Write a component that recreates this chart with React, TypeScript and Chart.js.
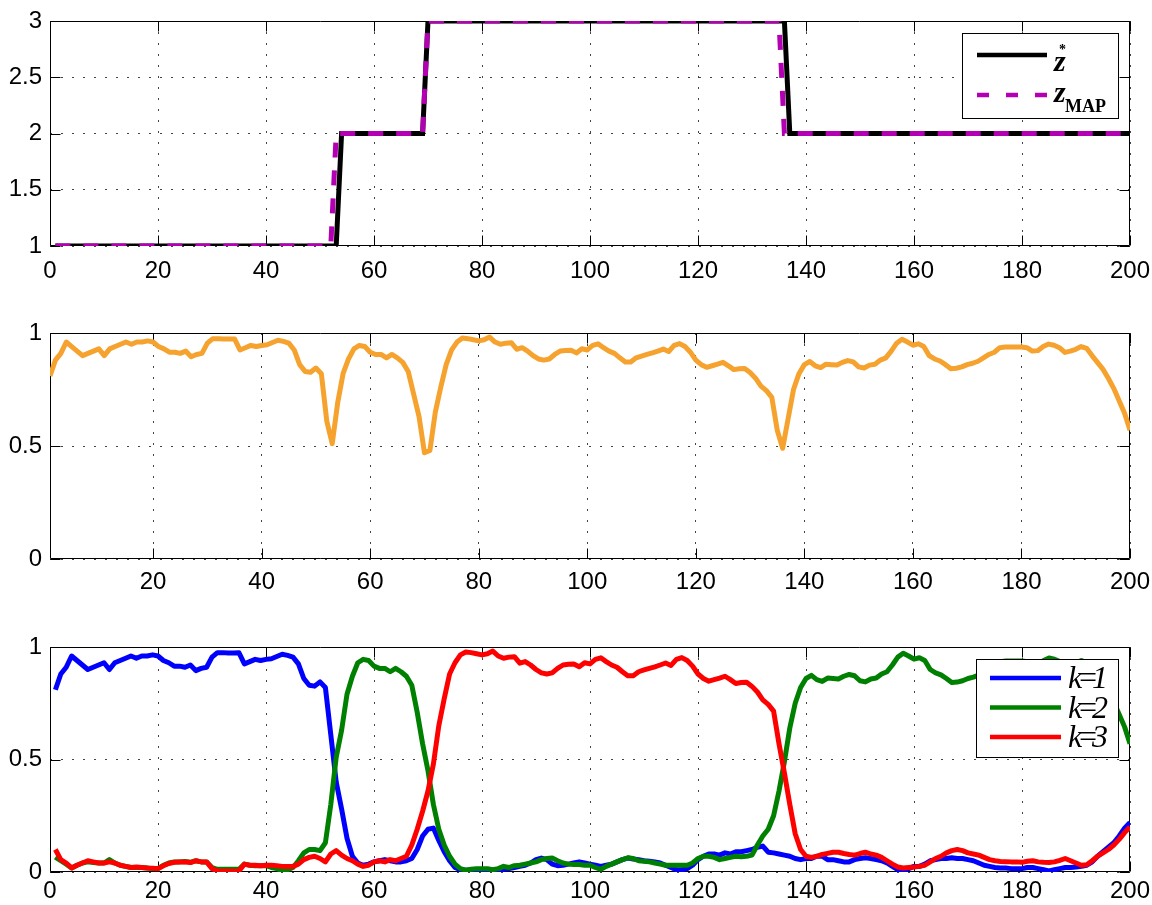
import React, { useEffect, useRef } from "react";
import { Chart, registerables } from "chart.js";

Chart.register(...registerables);

// ---------- DATA ----------
const xTicksFull = [0, 20, 40, 60, 80, 100, 120, 140, 160, 180, 200];
const xTicksMid = [20, 40, 60, 80, 100, 120, 140, 160, 180, 200];
const yTicksTop = [1, 1.5, 2, 2.5, 3];
const yTicksProb = [0, 0.5, 1];

// step sequences: time index of each vertex and its level
const zStarT = [1, 53, 54, 69, 70, 136, 137, 200];
const zStarV = [1, 1, 2, 2, 3, 3, 2, 2];
const zMapT = [1, 52, 53, 69, 70, 135, 136, 200];
const zMapV = [1, 1, 2, 2, 3, 3, 2, 2];

// max posterior probability, t = 1..200
const maxPost = [
  0.81, 0.88, 0.91, 0.96, 0.94, 0.92, 0.90, 0.91, 0.92, 0.93,
  0.90, 0.93, 0.94, 0.95, 0.96, 0.95, 0.96, 0.96, 0.965, 0.96,
  0.94, 0.93, 0.915, 0.915, 0.91, 0.92, 0.895, 0.905, 0.91, 0.955,
  0.975, 0.975, 0.973, 0.973, 0.974, 0.925, 0.935, 0.945, 0.94, 0.945,
  0.948, 0.958, 0.968, 0.963, 0.955, 0.925, 0.86, 0.83, 0.826, 0.845,
  0.82, 0.61, 0.51, 0.69, 0.82, 0.885, 0.93, 0.945, 0.94, 0.915,
  0.905, 0.905, 0.89, 0.905, 0.89, 0.87, 0.83, 0.73, 0.63, 0.47,
  0.48, 0.65, 0.76, 0.86, 0.925, 0.96, 0.978, 0.975, 0.97, 0.965,
  0.97, 0.982, 0.96, 0.95, 0.955, 0.957, 0.928, 0.935, 0.92, 0.90,
  0.885, 0.88, 0.885, 0.905, 0.92, 0.923, 0.924, 0.912, 0.93, 0.925,
  0.945, 0.952, 0.935, 0.92, 0.91, 0.89, 0.872, 0.872, 0.89, 0.898,
  0.905, 0.912, 0.92, 0.929, 0.918, 0.945, 0.953, 0.94, 0.915, 0.88,
  0.86, 0.848, 0.855, 0.862, 0.87, 0.855, 0.838, 0.842, 0.843, 0.825,
  0.80, 0.765, 0.745, 0.715, 0.57, 0.49, 0.62, 0.75, 0.82, 0.86,
  0.874, 0.855, 0.847, 0.862, 0.86, 0.858, 0.87, 0.878, 0.872, 0.85,
  0.845, 0.858, 0.862, 0.88, 0.89, 0.92, 0.955, 0.972, 0.96, 0.946,
  0.952, 0.94, 0.90, 0.885, 0.876, 0.86, 0.842, 0.844, 0.85, 0.86,
  0.866, 0.875, 0.89, 0.905, 0.915, 0.935, 0.938, 0.938, 0.938, 0.938,
  0.935, 0.92, 0.922, 0.94, 0.951, 0.946, 0.935, 0.914, 0.92, 0.928,
  0.94, 0.932, 0.90, 0.87, 0.84, 0.80, 0.755, 0.70, 0.645, 0.57,
];

const probK1 = [
  0.81, 0.88, 0.91, 0.96, 0.94, 0.92, 0.90, 0.91, 0.92, 0.93,
  0.90, 0.93, 0.94, 0.95, 0.96, 0.95, 0.96, 0.96, 0.965, 0.96,
  0.94, 0.93, 0.915, 0.915, 0.91, 0.92, 0.895, 0.905, 0.91, 0.955,
  0.975, 0.975, 0.973, 0.973, 0.974, 0.925, 0.935, 0.945, 0.94, 0.945,
  0.948, 0.958, 0.968, 0.963, 0.955, 0.925, 0.86, 0.83, 0.826, 0.845,
  0.82, 0.61, 0.40, 0.28, 0.15, 0.07, 0.04, 0.03, 0.035, 0.045,
  0.05, 0.055, 0.05, 0.045, 0.045, 0.05, 0.06, 0.10, 0.16, 0.19,
  0.195, 0.14, 0.09, 0.05, 0.02, 0.01, 0.008, 0.01, 0.01, 0.008,
  0.008, 0.005, 0.008, 0.012, 0.015, 0.02, 0.025, 0.03, 0.04, 0.055,
  0.062, 0.055, 0.035, 0.028, 0.03, 0.035, 0.04, 0.045, 0.04, 0.035,
  0.03, 0.025, 0.03, 0.035, 0.045, 0.055, 0.062, 0.058, 0.055, 0.05,
  0.048, 0.045, 0.04, 0.03, 0.02, 0.01, 0.01, 0.015, 0.03, 0.055,
  0.07, 0.08, 0.08, 0.075, 0.085, 0.08, 0.09, 0.09, 0.095, 0.10,
  0.11, 0.115, 0.088, 0.085, 0.08, 0.075, 0.07, 0.06, 0.055, 0.06,
  0.06, 0.07, 0.07, 0.055, 0.055, 0.05, 0.045, 0.045, 0.055, 0.06,
  0.063, 0.06, 0.055, 0.05, 0.04, 0.025, 0.01, 0.005, 0.015, 0.025,
  0.025, 0.035, 0.05, 0.055, 0.06, 0.06, 0.063, 0.06, 0.06, 0.055,
  0.05, 0.04, 0.03, 0.025, 0.02, 0.018, 0.018, 0.015, 0.015, 0.015,
  0.02, 0.02, 0.015, 0.01, 0.005, 0.01, 0.015, 0.02, 0.02, 0.022,
  0.025, 0.03, 0.045, 0.07, 0.09, 0.11, 0.13, 0.16, 0.195, 0.22,
];

const probK2 = [
  0.066, 0.05, 0.035, 0.018, 0.03, 0.04, 0.045, 0.042, 0.04, 0.04,
  0.055, 0.04, 0.03, 0.025, 0.02, 0.02, 0.02, 0.018, 0.015, 0.015,
  0.03, 0.04, 0.045, 0.045, 0.047, 0.043, 0.05, 0.045, 0.045, 0.02,
  0.012, 0.012, 0.012, 0.012, 0.012, 0.035, 0.03, 0.028, 0.028, 0.028,
  0.02, 0.015, 0.005, 0.01, 0.02, 0.05, 0.085, 0.10, 0.10, 0.095,
  0.13, 0.30, 0.51, 0.63, 0.79, 0.87, 0.93, 0.945, 0.94, 0.915,
  0.905, 0.905, 0.89, 0.905, 0.89, 0.87, 0.83, 0.71, 0.57, 0.45,
  0.30, 0.19, 0.12, 0.07, 0.035, 0.015, 0.008, 0.012, 0.015, 0.015,
  0.015, 0.01, 0.015, 0.025, 0.02, 0.028, 0.03, 0.035, 0.04, 0.045,
  0.055, 0.06, 0.062, 0.05, 0.04, 0.035, 0.033, 0.033, 0.03, 0.03,
  0.02, 0.012, 0.025, 0.035, 0.045, 0.055, 0.063, 0.06, 0.05, 0.048,
  0.045, 0.04, 0.035, 0.03, 0.03, 0.03, 0.03, 0.03, 0.04, 0.06,
  0.07, 0.07, 0.065, 0.055, 0.06, 0.065, 0.07, 0.068, 0.07, 0.075,
  0.12, 0.16, 0.19, 0.25, 0.36, 0.49, 0.64, 0.75, 0.82, 0.86,
  0.874, 0.855, 0.847, 0.862, 0.86, 0.858, 0.87, 0.878, 0.872, 0.85,
  0.845, 0.858, 0.862, 0.88, 0.89, 0.92, 0.955, 0.972, 0.96, 0.946,
  0.952, 0.94, 0.90, 0.885, 0.876, 0.86, 0.842, 0.844, 0.85, 0.86,
  0.866, 0.875, 0.89, 0.905, 0.915, 0.935, 0.938, 0.938, 0.938, 0.938,
  0.935, 0.92, 0.922, 0.94, 0.951, 0.946, 0.935, 0.914, 0.92, 0.928,
  0.94, 0.932, 0.90, 0.87, 0.84, 0.80, 0.755, 0.70, 0.645, 0.57,
];

const probK3 = [
  0.10, 0.055, 0.04, 0.018, 0.03, 0.04, 0.05, 0.045, 0.04, 0.04,
  0.045, 0.04, 0.03, 0.025, 0.02, 0.022, 0.02, 0.018, 0.017, 0.015,
  0.028, 0.038, 0.043, 0.045, 0.045, 0.042, 0.05, 0.045, 0.045, 0.015,
  0.005, 0.005, 0.005, 0.005, 0.005, 0.035, 0.03, 0.03, 0.028, 0.03,
  0.03, 0.028, 0.025, 0.025, 0.025, 0.035, 0.055, 0.065, 0.07, 0.06,
  0.045, 0.08, 0.095, 0.075, 0.06, 0.05, 0.035, 0.025, 0.03, 0.045,
  0.05, 0.045, 0.055, 0.05, 0.06, 0.07, 0.12, 0.19, 0.27, 0.36,
  0.48, 0.65, 0.77, 0.88, 0.93, 0.965, 0.978, 0.975, 0.97, 0.965,
  0.97, 0.982, 0.96, 0.95, 0.955, 0.957, 0.928, 0.935, 0.92, 0.90,
  0.885, 0.88, 0.885, 0.905, 0.92, 0.923, 0.924, 0.912, 0.93, 0.925,
  0.945, 0.952, 0.935, 0.92, 0.91, 0.89, 0.872, 0.872, 0.89, 0.898,
  0.905, 0.912, 0.92, 0.929, 0.918, 0.945, 0.953, 0.94, 0.915, 0.88,
  0.86, 0.848, 0.855, 0.862, 0.87, 0.855, 0.838, 0.842, 0.843, 0.825,
  0.80, 0.765, 0.745, 0.715, 0.57, 0.44, 0.30, 0.17, 0.10, 0.07,
  0.065, 0.07, 0.078, 0.083, 0.088, 0.088, 0.082, 0.078, 0.075, 0.082,
  0.088, 0.08, 0.075, 0.065, 0.05, 0.035, 0.022, 0.018, 0.02, 0.022,
  0.025, 0.03, 0.045, 0.06, 0.07, 0.085, 0.095, 0.10, 0.095, 0.085,
  0.08, 0.075, 0.065, 0.055, 0.05, 0.047, 0.046, 0.045, 0.045, 0.043,
  0.048, 0.05, 0.045, 0.043, 0.042, 0.045, 0.052, 0.06, 0.05, 0.04,
  0.03, 0.032, 0.05, 0.07, 0.085, 0.10, 0.12, 0.145, 0.175, 0.20,
];

// ---------- STYLE ----------
const MAGENTA = "#B300B3";
const ORANGE = "#F6A22E";
const BLUE = "#0000FF";
const GREEN = "#008000";
const RED = "#FF0000";
const LINE_W = 5;
const TICK_FONT = { family: '"Liberation Sans", Arial, Helvetica, sans-serif', size: 24 };
const SERIF = '"Liberation Serif", "Times New Roman", serif';

const toXY = (vals: number[]) => vals.map((v, i) => ({ x: i + 1, y: v }));
const stepXY = (ts: number[], vs: number[]) => ts.map((t, i) => ({ x: t, y: vs[i] }));

function xAxis(min: number, max: number, ticks: number[], height: number, pad: number) {
  return {
    type: "linear",
    min,
    max,
    afterBuildTicks: (s: any) => {
      s.ticks = ticks.map((v) => ({ value: v }));
    },
    afterFit: (s: any) => {
      s.height = height;
      s.paddingLeft = 0;
      s.paddingRight = 0;
    },
    grid: { color: "#444", lineWidth: 1, drawTicks: false },
    border: { display: false, dash: [2, 9] },
    ticks: {
      padding: pad,
      maxRotation: 0,
      minRotation: 0,
      autoSkip: false,
      color: "#000",
      font: TICK_FONT,
      callback: (v: any) => String(v),
    },
  };
}

function yAxis(min: number, max: number, ticks: number[]) {
  return {
    type: "linear",
    min,
    max,
    afterBuildTicks: (s: any) => {
      s.ticks = ticks.map((v) => ({ value: v }));
    },
    afterFit: (s: any) => {
      s.width = 50;
      s.paddingTop = 0;
      s.paddingBottom = 0;
    },
    grid: { color: "#444", lineWidth: 1, drawTicks: false },
    border: { display: false, dash: [2, 9] },
    ticks: {
      padding: 8,
      autoSkip: false,
      color: "#000",
      font: TICK_FONT,
      callback: (v: any) => String(v),
    },
  };
}

const framePlugin = {
  id: "matlabFrame",
  beforeDatasetsDraw(chart: any) {
    const { ctx, chartArea: a, scales } = chart;
    const L = 10;
    ctx.save();
    ctx.strokeStyle = "#000";
    ctx.lineWidth = 1;
    const l = Math.round(a.left) + 0.5;
    const r = Math.round(a.right) - 0.5;
    const t = Math.round(a.top) + 0.5;
    const b = Math.round(a.bottom) - 0.5;
    ctx.beginPath();
    ctx.rect(l, t, r - l, b - t);
    scales.x.ticks.forEach((tk: any) => {
      const px = Math.round(scales.x.getPixelForValue(tk.value)) + 0.5;
      ctx.moveTo(px, b);
      ctx.lineTo(px, b - L);
      ctx.moveTo(px, t);
      ctx.lineTo(px, t + L);
    });
    scales.y.ticks.forEach((tk: any) => {
      const py = Math.round(scales.y.getPixelForValue(tk.value)) + 0.5;
      ctx.moveTo(l, py);
      ctx.lineTo(l + L, py);
      ctx.moveTo(r, py);
      ctx.lineTo(r - L, py);
    });
    ctx.stroke();
    ctx.restore();
  },
};

const zLegendPlugin = {
  id: "zLegend",
  afterDraw(chart: any) {
    const { ctx, chartArea: a } = chart;
    const w = 156;
    const h = 85;
    const x0 = Math.round(a.right) - 12 - w;
    const y0 = Math.round(a.top) + 12;
    ctx.save();
    ctx.fillStyle = "#fff";
    ctx.fillRect(x0, y0, w, h);
    ctx.strokeStyle = "#000";
    ctx.lineWidth = 1;
    ctx.strokeRect(x0 + 0.5, y0 + 0.5, w, h);
    ctx.lineWidth = 4.5;
    ctx.beginPath();
    ctx.moveTo(x0 + 15, y0 + 22);
    ctx.lineTo(x0 + 85, y0 + 22);
    ctx.stroke();
    ctx.strokeStyle = MAGENTA;
    ctx.setLineDash([12, 17]);
    ctx.beginPath();
    ctx.moveTo(x0 + 15, y0 + 62);
    ctx.lineTo(x0 + 85, y0 + 62);
    ctx.stroke();
    ctx.setLineDash([]);
    ctx.fillStyle = "#000";
    ctx.textBaseline = "alphabetic";
    ctx.textAlign = "left";
    ctx.font = `italic bold 30px ${SERIF}`;
    ctx.fillText("z", x0 + 92, y0 + 38);
    ctx.fillText("z", x0 + 92, y0 + 69);
    ctx.font = `bold 14px ${SERIF}`;
    ctx.fillText("*", x0 + 97, y0 + 21);
    ctx.font = `bold 18px ${SERIF}`;
    ctx.fillText("MAP", x0 + 103, y0 + 79);
    ctx.restore();
  },
};

const kLabels = ["1", "2", "3"];
const kColors = [BLUE, GREEN, RED];

const kLegendPlugin = {
  id: "kLegend",
  afterDraw(chart: any) {
    const { ctx, chartArea: a } = chart;
    const w = 142;
    const h = 98;
    const x0 = Math.round(a.right) - 12 - w;
    const y0 = Math.round(a.top) + 12;
    ctx.save();
    ctx.fillStyle = "#fff";
    ctx.fillRect(x0, y0, w, h);
    ctx.strokeStyle = "#000";
    ctx.lineWidth = 1;
    ctx.strokeRect(x0 + 0.5, y0 + 0.5, w, h);
    kLabels.forEach((lab, i) => {
      const yy = y0 + 19 + i * 29.5;
      ctx.strokeStyle = kColors[i];
      ctx.lineWidth = 4.5;
      ctx.beginPath();
      ctx.moveTo(x0 + 14, yy);
      ctx.lineTo(x0 + 85, yy);
      ctx.stroke();
      ctx.fillStyle = "#000";
      ctx.textBaseline = "alphabetic";
      ctx.textAlign = "left";
      ctx.font = `italic 32px ${SERIF}`;
      ctx.fillText("k", x0 + 92, yy + 10);
      ctx.fillText("=", x0 + 101, yy + 10);
      ctx.fillText(lab, x0 + 116, yy + 10);
    });
    ctx.restore();
  },
};

const baseOpts = (padTop: number) => ({
  responsive: false,
  animation: false as const,
  events: [] as any[],
  layout: { padding: { left: 0, right: 22, top: padTop, bottom: 0 } },
  plugins: { legend: { display: false }, tooltip: { enabled: false } },
  elements: { point: { radius: 0 }, line: { tension: 0, borderJoinStyle: "round" } },
});

function topConfig(): any {
  return {
    type: "line",
    data: {
      datasets: [
        { data: stepXY(zStarT, zStarV), borderColor: "#000", borderWidth: LINE_W, order: 1, fill: false, borderJoinStyle: "miter" },
        {
          data: stepXY(zMapT, zMapV),
          borderColor: MAGENTA,
          borderWidth: LINE_W,
          borderDash: [15, 13],
          borderJoinStyle: "miter",
          order: 0,
          fill: false,
        },
      ],
    },
    options: {
      ...baseOpts(21),
      scales: { x: xAxis(0, 200, xTicksFull, 44, 11), y: yAxis(1, 3, yTicksTop) },
    },
    plugins: [framePlugin, zLegendPlugin],
  };
}

function midConfig(): any {
  return {
    type: "line",
    data: {
      datasets: [{ data: toXY(maxPost), borderColor: ORANGE, borderWidth: LINE_W, fill: false }],
    },
    options: {
      ...baseOpts(43),
      scales: { x: xAxis(1, 200, xTicksMid, 36, 9), y: yAxis(0, 1, yTicksProb) },
    },
    plugins: [framePlugin],
  };
}

function botConfig(): any {
  return {
    type: "line",
    data: {
      datasets: [
        { data: toXY(probK1), borderColor: BLUE, borderWidth: LINE_W, order: 2, fill: false },
        { data: toXY(probK2), borderColor: GREEN, borderWidth: LINE_W, order: 1, fill: false },
        { data: toXY(probK3), borderColor: RED, borderWidth: LINE_W, order: 0, fill: false },
      ],
    },
    options: {
      ...baseOpts(52),
      scales: { x: xAxis(0, 200, xTicksFull, 33, 5), y: yAxis(0, 1, yTicksProb) },
    },
    plugins: [framePlugin, kLegendPlugin],
  };
}

export default function App() {
  const r1 = useRef<HTMLCanvasElement>(null);
  const r2 = useRef<HTMLCanvasElement>(null);
  const r3 = useRef<HTMLCanvasElement>(null);

  useEffect(() => {
    const charts = [
      new Chart(r1.current as HTMLCanvasElement, topConfig()),
      new Chart(r2.current as HTMLCanvasElement, midConfig()),
      new Chart(r3.current as HTMLCanvasElement, botConfig()),
    ];
    return () => charts.forEach((c) => c.destroy());
  }, []);

  return (
    <div
      style={{
        position: "absolute",
        left: 0,
        top: 0,
        width: 1152,
        height: 905,
        background: "#fff",
        overflow: "hidden",
      }}
    >
      <canvas ref={r1} width={1152} height={290} style={{ position: "absolute", left: 0, top: 0 }} />
      <canvas ref={r2} width={1152} height={305} style={{ position: "absolute", left: 0, top: 290 }} />
      <canvas ref={r3} width={1152} height={310} style={{ position: "absolute", left: 0, top: 595 }} />
    </div>
  );
}
